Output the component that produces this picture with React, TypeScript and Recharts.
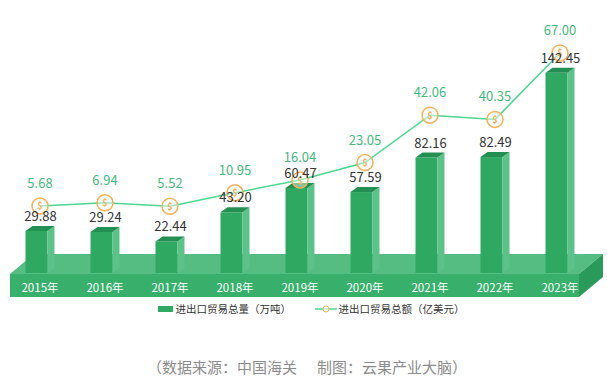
import { ComposedChart, Bar, Line, XAxis, YAxis, Legend, LabelList } from 'recharts'

const years = ['2015年', '2016年', '2017年', '2018年', '2019年', '2020年', '2021年', '2022年', '2023年']
const volume = [29.88, 29.24, 22.44, 43.2, 60.47, 57.59, 82.16, 82.49, 142.45]
const amount = [5.68, 6.94, 5.52, 10.95, 16.04, 23.05, 42.06, 40.35, 67.0]

const data = years.map((year, i) => ({ year, volume: volume[i], amount: amount[i] }))

const FONT = '"Noto Sans CJK SC", "Noto Sans", sans-serif'
const LINE_COLOR = '#4cd68f'
const MARK_COLOR = '#f5b05a'

// 3D-ish bar: front face, lighter right side, darker top
function Bar3D(props: any) {
  const { x, y, width, height } = props
  if (height <= 0) return null
  const fx = x - 4
  const d = 7
  const dy = 5
  return (
    <g>
      <rect x={fx} y={y} width={width} height={height} fill="#2fa862" />
      <polygon
        points={`${fx + width},${y} ${fx + width + d},${y - dy} ${fx + width + d},${y + height - dy} ${fx + width},${y + height}`}
        fill="#5cc28a"
      />
      <polygon
        points={`${fx},${y} ${fx + d},${y - dy} ${fx + width + d},${y - dy} ${fx + width},${y}`}
        fill="#238f52"
      />
    </g>
  )
}

function CoinDot(props: any) {
  const { cx, cy } = props
  return (
    <g>
      <circle cx={cx} cy={cy} r={8} fill="rgba(255,255,255,0.45)" stroke={MARK_COLOR} strokeWidth={1.5} />
      <text x={cx} y={cy + 3.5} textAnchor="middle" fontSize={9} fontWeight={700} fill={MARK_COLOR} fontFamily={FONT}>
        $
      </text>
    </g>
  )
}

function YearTick(props: any) {
  const { x, y, payload } = props
  return (
    <text x={x} y={y} dy={11} textAnchor="middle" fill="#ffffff" fontSize={11.5} fontFamily={FONT}>
      {payload.value}
    </text>
  )
}

function LegendBox() {
  return (
    <div style={{ height: 20, position: 'relative', fontFamily: FONT, fontSize: 10.5, color: '#333' }}>
      <div style={{ position: 'absolute', left: 150, top: 7, width: 15, height: 6, background: '#2fa862' }} />
      <div style={{ position: 'absolute', left: 168, top: 2, lineHeight: '16px' }}>进出口贸易总量（万吨）</div>
      <svg style={{ position: 'absolute', left: 307, top: 4 }} width={22} height={12}>
        <line x1={0} y1={6} x2={22} y2={6} stroke={LINE_COLOR} strokeWidth={1.5} />
        <circle cx={11} cy={6} r={3} fill="rgba(255,255,255,0.6)" stroke={MARK_COLOR} strokeWidth={1} />
      </svg>
      <div style={{ position: 'absolute', left: 331, top: 2, lineHeight: '16px' }}>进出口贸易总额（亿美元）</div>
    </div>
  )
}

export default function App() {
  return (
    <div style={{ position: 'relative', width: 607, height: 386, background: '#fff' }}>
      <style>{'body{margin:0}'}</style>
      {/* floor slab + source note */}
      <svg width={607} height={386} style={{ position: 'absolute', left: 0, top: 0 }}>
        <polygon points="10,274 34,254 603,254 579,274" fill="#55bd82" />
        <rect x={10} y={274} width={569} height={23} fill="#38b06b" />
        <polygon points="579,274 603,254 603,277 579,297" fill="#2a9a5a" />
        <text x={147} y={373} fontSize={15} fill="#8c8c8c" fontFamily={FONT}>（数据来源：中国海关</text>
        <text x={317} y={373} fontSize={15} fill="#8c8c8c" fontFamily={FONT}>制图：云果产业大脑）</text>
      </svg>
      <ComposedChart
        width={607}
        height={386}
        data={data}
        margin={{ top: 20, right: 14.5, bottom: 67, left: 7.5 }}
        style={{ position: 'relative' }}
      >
        <XAxis dataKey="year" axisLine={false} tickLine={false} interval={0} height={26} tick={<YearTick />} />
        <YAxis yAxisId="left" hide domain={[0, 180]} />
        <YAxis yAxisId="right" hide domain={[-21.2, 80.2]} />
        <Legend verticalAlign="bottom" content={() => <LegendBox />} />
        <Bar yAxisId="left" dataKey="volume" barSize={22} shape={<Bar3D />} isAnimationActive={false}>
          <LabelList dataKey="volume" position="top" offset={10} fill="#333" fontSize={13} fontFamily={FONT} formatter={(v: any) => Number(v).toFixed(2)} />
        </Bar>
        <Line
          yAxisId="right"
          dataKey="amount"
          stroke={LINE_COLOR}
          strokeWidth={1.5}
          dot={<CoinDot />}
          activeDot={false}
          isAnimationActive={false}
        >
          <LabelList dataKey="amount" position="top" offset={18} fill="#45b97c" fontSize={13} fontFamily={FONT} formatter={(v: any) => Number(v).toFixed(2)} />
        </Line>
      </ComposedChart>
    </div>
  )
}
